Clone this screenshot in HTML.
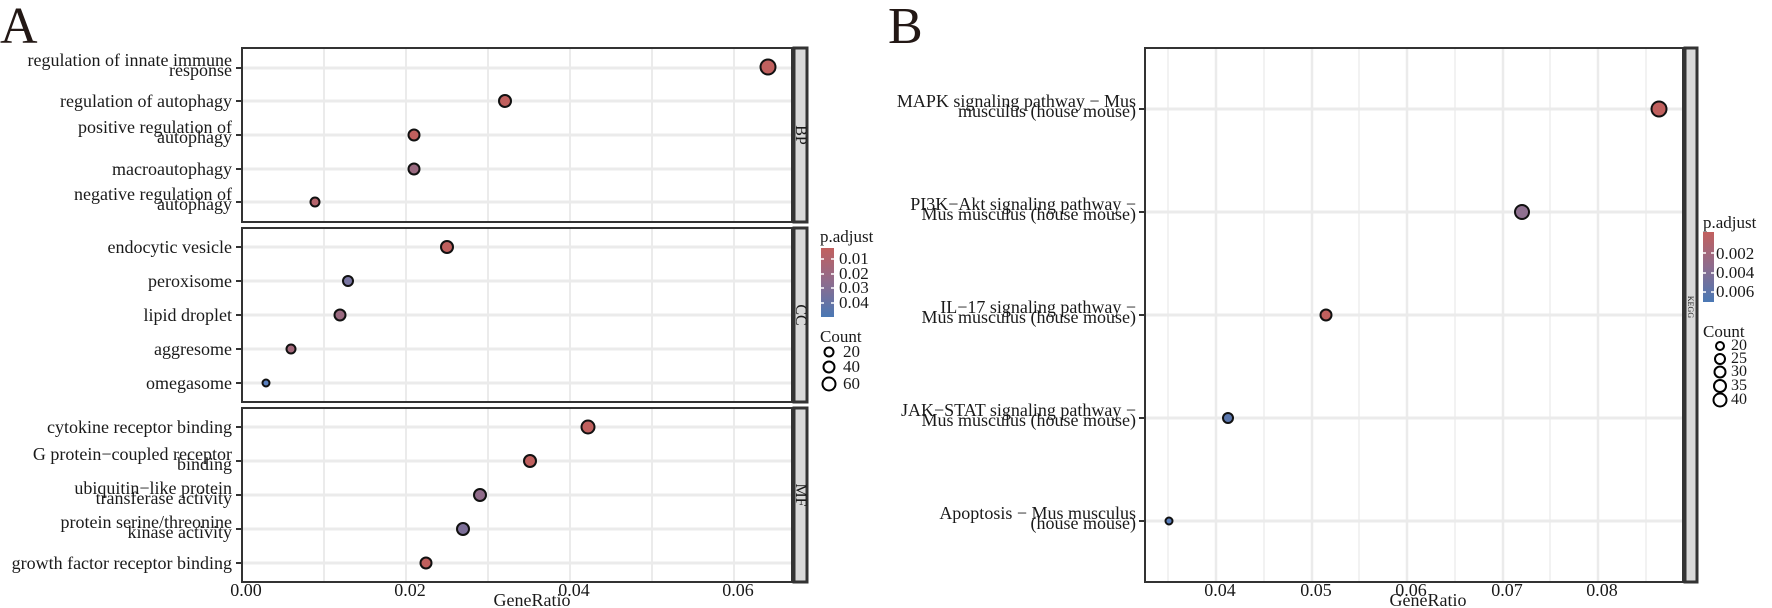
<!DOCTYPE html>
<html><head><meta charset="utf-8"><style>
html,body{margin:0;padding:0;background:#fff;}
svg{display:block;font-family:"Liberation Serif",serif;}
</style></head><body>
<svg width="1772" height="608" viewBox="0 0 1772 608" xmlns="http://www.w3.org/2000/svg">
<defs>
<linearGradient id="g" x1="0" y1="0" x2="0" y2="1">
<stop offset="0" stop-color="#c2605e"/><stop offset="0.5" stop-color="#8d6c8e"/><stop offset="1" stop-color="#4a78b4"/>
</linearGradient>
</defs>
<text x="0" y="43" font-size="52" fill="#231815">A</text>
<text x="888" y="43" font-size="52" fill="#231815">B</text>

<!-- Panel A grids -->
<g stroke="#ebebeb" stroke-width="2">
<g id="vgA">
<line x1="242" y1="48" x2="242" y2="582"/><line x1="324" y1="48" x2="324" y2="582"/><line x1="406" y1="48" x2="406" y2="582"/><line x1="488" y1="48" x2="488" y2="582"/><line x1="570" y1="48" x2="570" y2="582"/><line x1="652" y1="48" x2="652" y2="582"/><line x1="734" y1="48" x2="734" y2="582"/>
</g>
</g>
<g stroke="#ebebeb" stroke-width="3">
<line x1="242" y1="68" x2="792" y2="68"/><line x1="242" y1="101" x2="792" y2="101"/><line x1="242" y1="135" x2="792" y2="135"/><line x1="242" y1="169" x2="792" y2="169"/><line x1="242" y1="202" x2="792" y2="202"/>
<line x1="242" y1="247" x2="792" y2="247"/><line x1="242" y1="281" x2="792" y2="281"/><line x1="242" y1="315" x2="792" y2="315"/><line x1="242" y1="349" x2="792" y2="349"/><line x1="242" y1="383" x2="792" y2="383"/>
<line x1="242" y1="427" x2="792" y2="427"/><line x1="242" y1="461" x2="792" y2="461"/><line x1="242" y1="495" x2="792" y2="495"/><line x1="242" y1="529" x2="792" y2="529"/><line x1="242" y1="563" x2="792" y2="563"/>
</g>
<!-- white gaps between facets -->
<rect x="238" y="222" width="574" height="6" fill="#fff"/>
<rect x="238" y="402" width="574" height="6" fill="#fff"/>
<!-- panel borders -->
<g fill="none" stroke="#333" stroke-width="2">
<rect x="242" y="48" width="550" height="174"/>
<rect x="242" y="228" width="550" height="174"/>
<rect x="242" y="408" width="550" height="174"/>
</g>
<g fill="#d9d9d9" stroke="#333" stroke-width="3">
<rect x="794" y="48" width="13" height="174"/>
<rect x="794" y="228" width="13" height="174"/>
<rect x="794" y="408" width="13" height="174"/>
</g>
<g font-size="16" fill="#1a1a1a" text-anchor="middle">
<text transform="translate(796,135) rotate(90)">BP</text>
<text transform="translate(796,315) rotate(90)">CC</text>
<text transform="translate(796,495) rotate(90)">MF</text>
</g>
<!-- y ticks A -->
<g stroke="#333" stroke-width="2">
<line x1="236" y1="68" x2="241" y2="68"/><line x1="236" y1="101" x2="241" y2="101"/><line x1="236" y1="135" x2="241" y2="135"/><line x1="236" y1="169" x2="241" y2="169"/><line x1="236" y1="202" x2="241" y2="202"/>
<line x1="236" y1="247" x2="241" y2="247"/><line x1="236" y1="281" x2="241" y2="281"/><line x1="236" y1="315" x2="241" y2="315"/><line x1="236" y1="349" x2="241" y2="349"/><line x1="236" y1="383" x2="241" y2="383"/>
<line x1="236" y1="427" x2="241" y2="427"/><line x1="236" y1="461" x2="241" y2="461"/><line x1="236" y1="495" x2="241" y2="495"/><line x1="236" y1="529" x2="241" y2="529"/><line x1="236" y1="563" x2="241" y2="563"/>
</g>
<g font-size="18" fill="#1a1a1a" text-anchor="end">
<text x="232" y="66">regulation of innate immune</text><text x="232" y="76">response</text>
<text x="232" y="107">regulation of autophagy</text>
<text x="232" y="133">positive regulation of</text><text x="232" y="143">autophagy</text>
<text x="232" y="175">macroautophagy</text>
<text x="232" y="200">negative regulation of</text><text x="232" y="210">autophagy</text>
<text x="232" y="253">endocytic vesicle</text>
<text x="232" y="287">peroxisome</text>
<text x="232" y="321">lipid droplet</text>
<text x="232" y="355">aggresome</text>
<text x="232" y="389">omegasome</text>
<text x="232" y="433">cytokine receptor binding</text>
<text x="232" y="460">G protein−coupled receptor</text><text x="232" y="470">binding</text>
<text x="232" y="494">ubiquitin−like protein</text><text x="232" y="504">transferase activity</text>
<text x="232" y="528">protein serine/threonine</text><text x="232" y="538">kinase activity</text>
<text x="232" y="569">growth factor receptor binding</text>
</g>
<g font-size="18" fill="#1a1a1a" text-anchor="middle">
<text x="246" y="596">0.00</text><text x="410" y="596">0.02</text><text x="574" y="596">0.04</text><text x="738" y="596">0.06</text>
<text x="532" y="606">GeneRatio</text>
</g>
<!-- points A -->
<g stroke="#111" stroke-width="2">
<circle cx="768" cy="67" r="7.5" fill="#c0605e"/>
<circle cx="505" cy="101" r="6" fill="#c0605e"/>
<circle cx="414" cy="135" r="5.5" fill="#c0605e"/>
<circle cx="414" cy="169" r="5.5" fill="#9a6a80"/>
<circle cx="315" cy="202" r="4.5" fill="#b5646c"/>
<circle cx="447" cy="247" r="6" fill="#c0605e"/>
<circle cx="348" cy="281" r="5" fill="#7a76a2"/>
<circle cx="340" cy="315" r="5.5" fill="#9a6a80"/>
<circle cx="291" cy="349" r="4.5" fill="#a2687a"/>
<circle cx="266" cy="383" r="3.5" fill="#5a80c0"/>
<circle cx="588" cy="427" r="6.5" fill="#c0605e"/>
<circle cx="530" cy="461" r="6" fill="#c0605e"/>
<circle cx="480" cy="495" r="6" fill="#906b8a"/>
<circle cx="463" cy="529" r="6" fill="#7d6f98"/>
<circle cx="426" cy="563" r="5.5" fill="#c0605e"/>
</g>
<!-- Legend A -->
<g font-size="17" fill="#1a1a1a">
<text x="820" y="242">p.adjust</text>
<rect x="821" y="248" width="13" height="69" fill="url(#g)"/>
<g stroke="#fff" stroke-width="1.5"><line x1="821" y1="259" x2="824" y2="259"/><line x1="831" y1="259" x2="834" y2="259"/><line x1="821" y1="274" x2="824" y2="274"/><line x1="831" y1="274" x2="834" y2="274"/><line x1="821" y1="288" x2="824" y2="288"/><line x1="831" y1="288" x2="834" y2="288"/><line x1="821" y1="303" x2="824" y2="303"/><line x1="831" y1="303" x2="834" y2="303"/></g>
<text x="839" y="264">0.01</text><text x="839" y="279">0.02</text><text x="839" y="293">0.03</text><text x="839" y="308">0.04</text>
<text x="820" y="342">Count</text>
<g fill="none" stroke="#000" stroke-width="2"><circle cx="829" cy="352" r="4.5"/><circle cx="829" cy="367" r="5.5"/><circle cx="829" cy="384" r="6.5"/></g>
<text x="843" y="357">20</text><text x="843" y="372">40</text><text x="843" y="389">60</text>
</g>

<!-- Panel B -->
<g stroke="#ebebeb">
<g stroke-width="1.3">
<line x1="1168" y1="48" x2="1168" y2="582"/><line x1="1264" y1="48" x2="1264" y2="582"/><line x1="1359" y1="48" x2="1359" y2="582"/><line x1="1455" y1="48" x2="1455" y2="582"/><line x1="1550" y1="48" x2="1550" y2="582"/><line x1="1646" y1="48" x2="1646" y2="582"/>
</g>
<g stroke-width="2.5">
<line x1="1216" y1="48" x2="1216" y2="582"/><line x1="1312" y1="48" x2="1312" y2="582"/><line x1="1407" y1="48" x2="1407" y2="582"/><line x1="1503" y1="48" x2="1503" y2="582"/><line x1="1598" y1="48" x2="1598" y2="582"/>
</g>
<g stroke-width="3">
<line x1="1145" y1="109" x2="1683" y2="109"/><line x1="1145" y1="212" x2="1683" y2="212"/><line x1="1145" y1="315" x2="1683" y2="315"/><line x1="1145" y1="418" x2="1683" y2="418"/><line x1="1145" y1="521" x2="1683" y2="521"/>
</g>
</g>
<rect x="1145" y="48" width="538" height="534" fill="none" stroke="#333" stroke-width="2"/>
<rect x="1685" y="48" width="12" height="534" fill="#d9d9d9" stroke="#333" stroke-width="3"/>
<text transform="translate(1688,307) rotate(90)" font-size="8" fill="#1a1a1a" text-anchor="middle">KEGG</text>
<g stroke="#333" stroke-width="2">
<line x1="1139" y1="109" x2="1144" y2="109"/><line x1="1139" y1="212" x2="1144" y2="212"/><line x1="1139" y1="315" x2="1144" y2="315"/><line x1="1139" y1="418" x2="1144" y2="418"/><line x1="1139" y1="521" x2="1144" y2="521"/>
</g>
<g font-size="18" fill="#1a1a1a" text-anchor="end">
<text x="1136" y="107">MAPK signaling pathway − Mus</text><text x="1136" y="117">musculus (house mouse)</text>
<text x="1136" y="210">PI3K−Akt signaling pathway −</text><text x="1136" y="220">Mus musculus (house mouse)</text>
<text x="1136" y="313">IL−17 signaling pathway −</text><text x="1136" y="323">Mus musculus (house mouse)</text>
<text x="1136" y="416">JAK−STAT signaling pathway −</text><text x="1136" y="426">Mus musculus (house mouse)</text>
<text x="1136" y="519">Apoptosis − Mus musculus</text><text x="1136" y="529">(house mouse)</text>
</g>
<g font-size="18" fill="#1a1a1a" text-anchor="middle">
<text x="1220" y="596">0.04</text><text x="1316" y="596">0.05</text><text x="1411" y="596">0.06</text><text x="1507" y="596">0.07</text><text x="1602" y="596">0.08</text>
<text x="1428" y="606">GeneRatio</text>
</g>
<g stroke="#111" stroke-width="2">
<circle cx="1659" cy="109" r="7.5" fill="#c0605e"/>
<circle cx="1522" cy="212" r="7" fill="#8f7090"/>
<circle cx="1326" cy="315" r="5.5" fill="#c0605e"/>
<circle cx="1228" cy="418" r="5" fill="#5b77ad"/>
<circle cx="1169" cy="521" r="3.5" fill="#5a7fbd"/>
</g>
<g font-size="17" fill="#1a1a1a">
<text x="1703" y="228">p.adjust</text>
<rect x="1703" y="232" width="11" height="70" fill="url(#g)"/>
<g stroke="#fff" stroke-width="1.5"><line x1="1703" y1="253" x2="1706" y2="253"/><line x1="1711" y1="253" x2="1714" y2="253"/><line x1="1703" y1="273" x2="1706" y2="273"/><line x1="1711" y1="273" x2="1714" y2="273"/><line x1="1703" y1="292" x2="1706" y2="292"/><line x1="1711" y1="292" x2="1714" y2="292"/></g>
<text x="1716" y="259">0.002</text><text x="1716" y="278">0.004</text><text x="1716" y="297">0.006</text>
<text x="1703" y="337">Count</text>
<g fill="none" stroke="#000" stroke-width="2"><circle cx="1720" cy="346" r="4"/><circle cx="1720" cy="359" r="5"/><circle cx="1720" cy="372" r="5.5"/><circle cx="1720" cy="386" r="6"/><circle cx="1720" cy="400" r="6.5"/></g>
<g font-size="16"><text x="1731" y="350">20</text><text x="1731" y="363">25</text><text x="1731" y="376">30</text><text x="1731" y="390">35</text><text x="1731" y="404">40</text></g>
</g>
</svg>
</body></html>
